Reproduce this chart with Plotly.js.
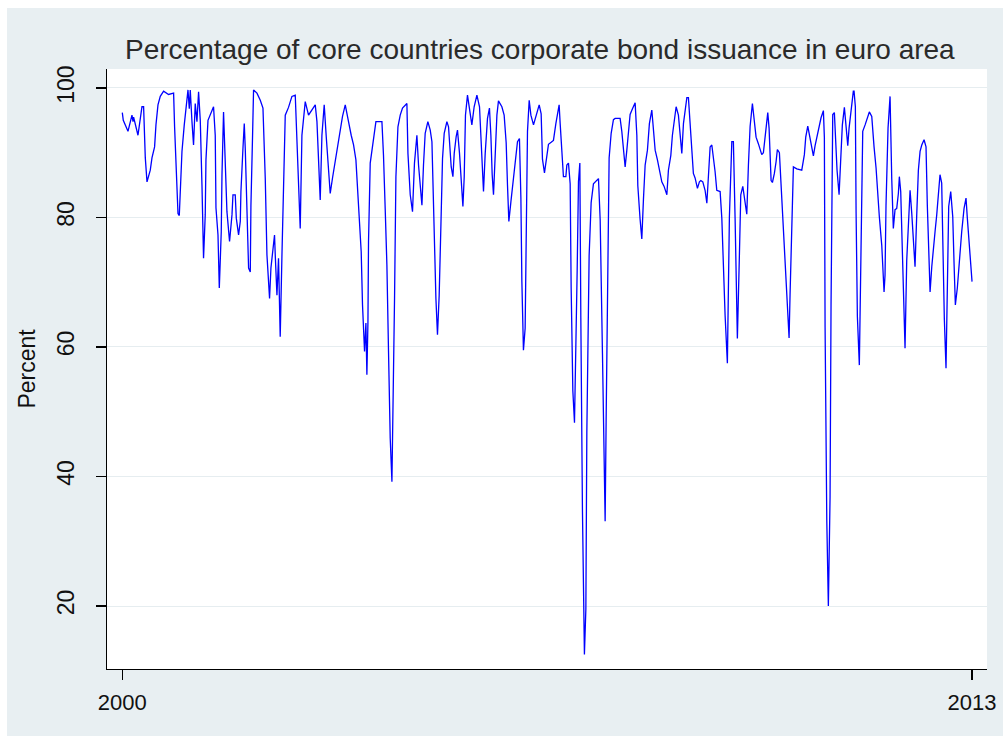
<!DOCTYPE html>
<html>
<head>
<meta charset="utf-8">
<script src="https://cdn.plot.ly/plotly-3.0.1.min.js"></script>
<style>
  html, body { margin: 0; padding: 0; background: #ffffff; width: 1003px; height: 736px; overflow: hidden; }
  #chart { position: absolute; left: 7px; top: 8px; width: 996px; height: 728px; }
</style>
</head>
<body>
<div id="chart"></div>
<script>
// Time (decimal years) and share of core-country issuance (percent)
const years = [
2000.000,2000.015,2000.087,2000.148,2000.164,2000.173,2000.240,2000.271,2000.301,2000.326,
2000.352,2000.378,2000.428,2000.454,2000.494,2000.515,2000.546,2000.581,2000.632,2000.708,
2000.785,2000.800,2000.821,2000.852,2000.872,2000.887,2000.913,2000.948,2000.974,2001.005,
2001.025,2001.040,2001.066,2001.090,2001.116,2001.142,2001.167,2001.193,2001.219,2001.243,
2001.269,2001.280,2001.311,2001.346,2001.381,2001.396,2001.422,2001.433,2001.464,2001.484,
2001.514,2001.525,2001.549,2001.575,2001.601,2001.641,2001.678,2001.693,2001.728,2001.744,
2001.779,2001.805,2001.815,2001.846,2001.866,2001.881,2001.907,2001.932,2001.958,2001.968,
2001.993,2002.008,2002.060,2002.111,2002.152,2002.187,2002.213,2002.253,2002.274,2002.305,
2002.329,2002.340,2002.366,2002.390,2002.416,2002.442,2002.467,2002.493,2002.543,2002.595,
2002.646,2002.672,2002.696,2002.722,2002.748,2002.799,2002.849,2002.901,2002.952,2002.978,
2003.002,2003.028,2003.054,2003.089,2003.120,2003.155,2003.181,2003.216,2003.258,2003.299,
2003.334,2003.369,2003.411,2003.437,2003.461,2003.502,2003.538,2003.574,2003.605,2003.625,
2003.655,2003.675,2003.706,2003.727,2003.742,2003.758,2003.767,2003.793,2003.828,2003.859,
2003.880,2003.972,2003.996,2004.022,2004.048,2004.073,2004.099,2004.125,2004.140,2004.165,
2004.186,2004.217,2004.252,2004.287,2004.354,2004.370,2004.405,2004.440,2004.470,2004.507,
2004.532,2004.558,2004.584,2004.608,2004.634,2004.675,2004.711,2004.737,2004.764,2004.798,
2004.822,2004.848,2004.874,2004.899,2004.925,2004.966,2004.991,2005.016,2005.032,2005.058,
2005.078,2005.108,2005.128,2005.159,2005.180,2005.211,2005.231,2005.250,2005.281,2005.312,
2005.348,2005.383,2005.425,2005.465,2005.486,2005.501,2005.526,2005.552,2005.587,2005.617,
2005.639,2005.659,2005.679,2005.705,2005.731,2005.755,2005.807,2005.842,2005.873,2005.893,
2005.914,2005.945,2005.975,2006.011,2006.046,2006.076,2006.098,2006.113,2006.137,2006.163,
2006.179,2006.199,2006.225,2006.251,2006.291,2006.332,2006.378,2006.408,2006.428,2006.459,
2006.495,2006.520,2006.561,2006.596,2006.633,2006.664,2006.683,2006.699,2006.725,2006.749,
2006.786,2006.801,2006.826,2006.852,2006.867,2006.893,2006.918,2006.939,2006.959,2006.979,
2007.000,2007.015,2007.040,2007.070,2007.092,2007.107,2007.142,2007.173,2007.208,2007.285,
2007.311,2007.346,2007.376,2007.387,2007.402,2007.428,2007.448,2007.479,2007.514,2007.540,
2007.616,2007.642,2007.667,2007.693,2007.719,2007.743,2007.769,2007.805,2007.846,2007.872,
2007.887,2007.922,2007.948,2007.973,2007.999,2008.034,2008.064,2008.101,2008.126,2008.152,
2008.187,2008.218,2008.254,2008.289,2008.331,2008.355,2008.392,2008.416,2008.447,2008.473,
2008.508,2008.534,2008.560,2008.585,2008.611,2008.637,2008.661,2008.687,2008.713,2008.737,
2008.763,2008.799,2008.829,2008.851,2008.881,2008.916,2008.943,2008.967,2008.993,2009.019,
2009.044,2009.069,2009.095,2009.146,2009.172,2009.196,2009.222,2009.257,2009.288,2009.325,
2009.349,2009.375,2009.401,2009.410,2009.441,2009.462,2009.493,2009.528,2009.554,2009.579,
2009.605,2009.640,2009.670,2009.696,2009.731,2009.758,2009.783,2009.808,2009.834,2009.860,
2009.875,2009.895,2009.926,2009.946,2009.976,2010.002,2010.022,2010.053,2010.079,2010.099,
2010.129,2010.151,2010.181,2010.201,2010.216,2010.242,2010.267,2010.319,2010.395,2010.435,
2010.456,2010.487,2010.522,2010.548,2010.573,2010.599,2010.625,2010.660,2010.690,2010.726,
2010.741,2010.752,2010.778,2010.802,2010.828,2010.843,2010.869,2010.894,2010.915,2010.935,
2010.966,2010.996,2011.016,2011.047,2011.068,2011.099,2011.119,2011.149,2011.184,2011.195,
2011.215,2011.226,2011.246,2011.276,2011.302,2011.328,2011.364,2011.399,2011.429,2011.466,
2011.481,2011.501,2011.532,2011.552,2011.582,2011.619,2011.634,2011.654,2011.669,2011.684,
2011.715,2011.746,2011.772,2011.796,2011.822,2011.848,2011.873,2011.888,2011.909,2011.934,
2011.960,2011.975,2012.001,2012.026,2012.052,2012.078,2012.102,2012.128,2012.154,2012.179,
2012.205,2012.231,2012.266,2012.296,2012.316,2012.347,2012.358,2012.384,2012.408,2012.434,
2012.460,2012.484,2012.510,2012.536,2012.552,2012.576,2012.602,2012.622,2012.643,2012.674,
2012.705,2012.725,2012.745,2012.775,2012.806,2012.842,2012.878,2012.908,2012.928,2012.959,
2012.985,2013.000
];
const percent = [
96.2,95.0,93.3,95.8,94.8,95.5,92.7,95.3,97.1,97.1,
89.2,85.5,87.3,89.2,90.9,94.3,97.4,98.7,99.5,99.0,
99.2,94.0,87.1,80.6,80.3,85.0,90.2,94.3,96.9,99.7,
96.8,99.7,94.8,91.2,97.6,94.8,99.4,95.0,85.0,73.7,
80.4,88.9,95.0,95.8,96.8,97.1,92.7,81.5,77.3,69.1,
77.8,86.6,96.3,88.4,80.9,76.3,80.4,83.5,83.5,79.9,
77.3,79.4,84.0,90.7,94.5,90.7,81.4,72.2,71.6,81.9,
92.7,99.7,99.2,98.1,96.9,86.1,74.2,67.5,72.2,75.2,
77.3,74.2,68.0,73.7,61.6,73.9,87.1,95.8,97.0,98.7,
98.9,92.5,85.0,78.3,92.7,97.9,95.8,96.6,97.4,94.8,
88.9,82.7,92.7,97.4,92.5,86.6,83.7,86.1,88.9,91.2,
94.0,95.6,97.4,96.3,94.8,92.7,91.2,88.9,84.0,79.4,
74.7,66.5,59.3,63.7,55.7,63.7,76.3,88.4,90.7,93.3,
94.8,94.8,89.6,81.4,72.7,59.3,45.9,39.2,48.5,67.5,
86.3,94.0,95.8,96.9,97.6,89.9,83.5,80.9,88.4,92.7,
88.1,84.5,81.9,88.1,93.0,94.8,93.5,91.7,79.5,67.5,
61.9,68.0,78.6,89.1,93.0,94.8,94.0,90.9,87.8,86.3,
89.9,92.5,93.5,89.9,85.9,81.7,86.3,95.8,98.9,96.9,
94.3,97.1,98.9,97.1,92.7,87.6,84.0,89.9,95.3,96.9,
92.7,86.6,83.5,89.6,95.8,98.0,97.1,95.8,91.5,85.0,
79.4,82.4,85.0,89.1,91.7,92.2,83.0,70.1,59.5,62.9,
78.1,93.3,98.1,95.8,94.3,95.8,97.4,96.0,89.0,86.9,
89.2,91.3,91.6,91.9,94.5,96.8,97.4,94.5,89.8,86.3,
86.3,88.1,88.4,85.2,69.2,53.2,48.3,57.8,71.8,85.5,
88.4,64.5,34.6,12.5,19.5,46.8,74.1,82.3,85.2,86.0,
79.7,59.0,38.1,33.1,48.5,68.9,89.2,93.0,95.1,95.3,
95.3,93.3,90.4,87.8,90.4,93.6,95.9,96.8,97.7,92.7,
84.9,79.7,76.7,82.8,88.1,90.4,94.5,96.6,93.5,90.4,
88.9,87.3,85.5,84.8,83.5,87.3,89.6,92.7,95.3,97.1,
95.8,92.2,89.9,94.5,96.9,98.5,98.5,94.5,90.2,86.8,
86.1,84.5,85.5,85.7,85.5,84.2,82.2,87.1,90.9,91.2,
89.4,87.1,84.2,84.0,79.9,70.6,64.9,57.5,80.1,91.7,
91.7,79.9,68.0,61.3,74.2,83.5,84.8,82.2,80.5,88.1,
94.1,97.6,94.9,92.4,91.4,90.5,89.7,90.0,92.4,94.6,
96.2,93.8,85.7,85.4,86.8,88.6,90.5,90.0,84.9,80.0,
74.3,69.2,63.5,61.4,68.1,78.4,87.8,87.5,87.3,89.7,
92.4,94.1,92.4,91.1,89.5,91.1,92.4,93.8,95.4,96.5,
92.4,63.0,33.2,20.0,36.8,66.5,95.9,96.2,91.9,87.3,
83.5,89.2,94.3,97.0,94.9,91.1,93.8,96.8,99.5,99.5,
97.1,80.9,64.7,57.2,79.1,93.3,94.3,95.3,96.3,95.6,
93.3,90.9,87.6,84.0,80.1,75.7,71.6,68.5,71.1,81.9,
93.8,98.7,85.9,78.3,81.2,81.4,83.7,86.3,84.0,73.9,
63.9,59.8,73.4,79.4,84.2,80.6,76.5,72.4,80.4,87.3,
90.2,91.2,92.0,90.9,81.9,72.2,68.5,72.4,75.5,77.8,
80.4,83.7,86.6,85.3,74.7,64.4,56.7,70.3,81.7,84.0,
80.1,72.9,66.5,69.1,73.9,77.8,81.4,83.0,79.9,75.2,
71.1,70.1
];
const xTickVals = [2000, 2013];
const xTickText = ["2000", "2013"];
const yTickVals = [20, 40, 60, 80, 100];

const chartTitle = "Percentage of core countries corporate bond issuance in euro area";
const yTitle = "Percent";

const fontFam = '"Liberation Sans", Arial, sans-serif';

const trace = {
  x: years,
  y: percent,
  type: 'scatter',
  mode: 'lines',
  line: { color: '#0000ff', width: 1.3 },
  hoverinfo: 'skip'
};

const layout = {
  width: 996,
  height: 728,
  margin: { l: 100, r: 16, t: 61, b: 67 },
  paper_bgcolor: '#e8eff2',
  plot_bgcolor: '#ffffff',
  showlegend: false,
  title: {
    text: chartTitle,
    font: { family: fontFam, size: 28, color: '#2a2a2a' },
    xref: 'container', x: 0.535, xanchor: 'center',
    yref: 'container', y: 0.944, yanchor: 'middle'
  },
  xaxis: {
    range: [1999.766, 2013.229],
    tickmode: 'array',
    tickvals: xTickVals,
    ticktext: xTickText,
    ticks: 'outside',
    ticklen: 10,
    tickwidth: 1.2,
    tickcolor: '#000000',
    showline: true,
    linecolor: '#000000',
    linewidth: 1.2,
    showgrid: false,
    zeroline: false,
    ticklabelstandoff: 3,
    tickfont: { family: fontFam, size: 22, color: '#111111' }
  },
  yaxis: {
    range: [10.27, 102.93],
    tickmode: 'array',
    tickvals: yTickVals,
    ticks: 'outside',
    ticklen: 10,
    tickwidth: 1.2,
    tickcolor: '#000000',
    tickangle: -90,
    showline: true,
    linecolor: '#000000',
    linewidth: 1.2,
    showgrid: true,
    gridcolor: '#e6edf0',
    gridwidth: 1,
    zeroline: false,
    ticklabelstandoff: 13,
    tickfont: { family: fontFam, size: 23, color: '#111111' },
    title: {
      text: yTitle,
      font: { family: fontFam, size: 23, color: '#111111' },
      standoff: 10
    }
  }
};

Plotly.newPlot('chart', [trace], layout, { staticPlot: true, displayModeBar: false });
</script>
</body>
</html>
